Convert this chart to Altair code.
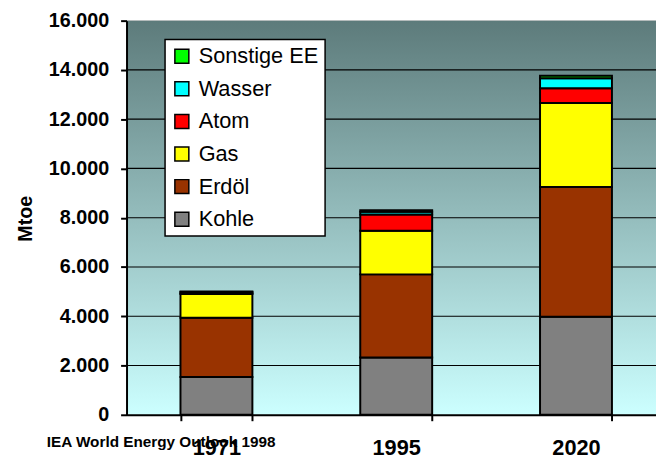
import altair as alt
import pandas as pd

# ---- data ----
years = ["1971", "1995", "2020"]
sources = ["Kohle", "Erdöl", "Gas", "Atom", "Wasser", "Sonstige EE"]
kohle = [1530, 2330, 3980]
erdoel = [2410, 3370, 5270]
gas = [960, 1770, 3410]
atom = [30, 660, 600]
wasser = [60, 110, 400]
sonstige = [20, 60, 100]

legend_order = ["Sonstige EE", "Wasser", "Atom", "Gas", "Erdöl", "Kohle"]
legend_colors = ["#00ff00", "#00ffff", "#ff0000", "#ffff00", "#993300", "#808080"]
y_ticks = [0, 2000, 4000, 6000, 8000, 10000, 12000, 14000, 16000]
grid_lines = [2000, 4000, 6000, 8000, 10000, 12000, 14000]
source_note = ["IEA World Energy Outlook 1998"]

series = [kohle, erdoel, gas, atom, wasser, sonstige]
rows = []
for si, (name, vals) in enumerate(zip(sources, series)):
    for yr, v in zip(years, vals):
        rows.append({"year": yr, "source": name, "value": v, "idx": si})
df = pd.DataFrame(rows)

W, H = 536, 399

y_axis = alt.Axis(
    values=y_ticks,
    labelExpr="replace(format(datum.value, ','), ',', '.')",
    labelFontSize=20, labelFontWeight="bold", labelColor="black",
    tickSize=6, tickColor="black", tickWidth=2,
    domainColor="black", domainWidth=2, labelPadding=12,
    grid=False, title="Mtoe", titleFontSize=20, titleFontWeight="bold",
    titleColor="black", titleX=-96, titleY=200, titleAngle=270,
    titleBaseline="alphabetic", titleAlign="center", zindex=1,
)

x_axis = alt.Axis(
    labelAngle=0, labelFontSize=22, labelFontWeight="bold", labelColor="black",
    tickBand="extent", tickSize=6, tickColor="black", tickWidth=2,
    domainColor="black", domainWidth=2, labelPadding=17, title=None,
    grid=False, zindex=1,
)

y_scale = alt.Scale(domain=[0, 16000])

bg = alt.Chart(pd.DataFrame({"a": [0]})).mark_rect(
    fill={
        "gradient": "linear",
        "x1": 0, "x2": 0, "y1": 0, "y2": 1,
        "stops": [
            {"offset": 0, "color": "#5d7b7b"},
            {"offset": 1, "color": "#ccffff"},
        ],
    }
).encode(x=alt.value(0), x2=alt.value(W), y=alt.value(0), y2=alt.value(H))

grid = alt.Chart(pd.DataFrame({"value": grid_lines})).mark_rule(
    color="black", strokeWidth=1.2
).encode(y=alt.Y("value:Q", scale=y_scale, axis=y_axis))

bars = alt.Chart(df).mark_bar(stroke="black", strokeWidth=2).encode(
    x=alt.X("year:N", sort=years,
            scale=alt.Scale(range=[0, 546], paddingInner=0.6, paddingOuter=0.3),
            axis=x_axis),
    y=alt.Y("value:Q", stack="zero", scale=y_scale, axis=y_axis),
    color=alt.Color(
        "source:N",
        scale=alt.Scale(domain=legend_order, range=legend_colors),
        legend=alt.Legend(title=None, orient="none", legendX=39, legendY=19),
    ),
    order=alt.Order("idx:Q", sort="ascending"),
)

note = alt.Chart(pd.DataFrame({"t": source_note})).mark_text(
    fontWeight="bold", fontSize=15.5, align="center", baseline="alphabetic", color="black"
).encode(text="t:N", x=alt.value(35), y=alt.value(432))

chart = alt.layer(bg, grid, bars, note).properties(
    width=W, height=H,
    autosize=alt.AutoSizeParams(type="none"),
    padding={"left": 120, "top": 10, "right": 0, "bottom": 46},
).configure(font="Liberation Sans").configure_view(
    stroke="#808080", strokeWidth=1
).configure_legend(
    labelFontSize=22, labelColor="black", symbolType="square", symbolSize=200,
    symbolStrokeColor="black", symbolStrokeWidth=1.5,
    fillColor="white", strokeColor="black", strokeWidth=1.5,
    padding=6, rowPadding=11, labelOffset=6,
)

chart.save("out.html", embed_options={"renderer": "svg", "actions": False})
